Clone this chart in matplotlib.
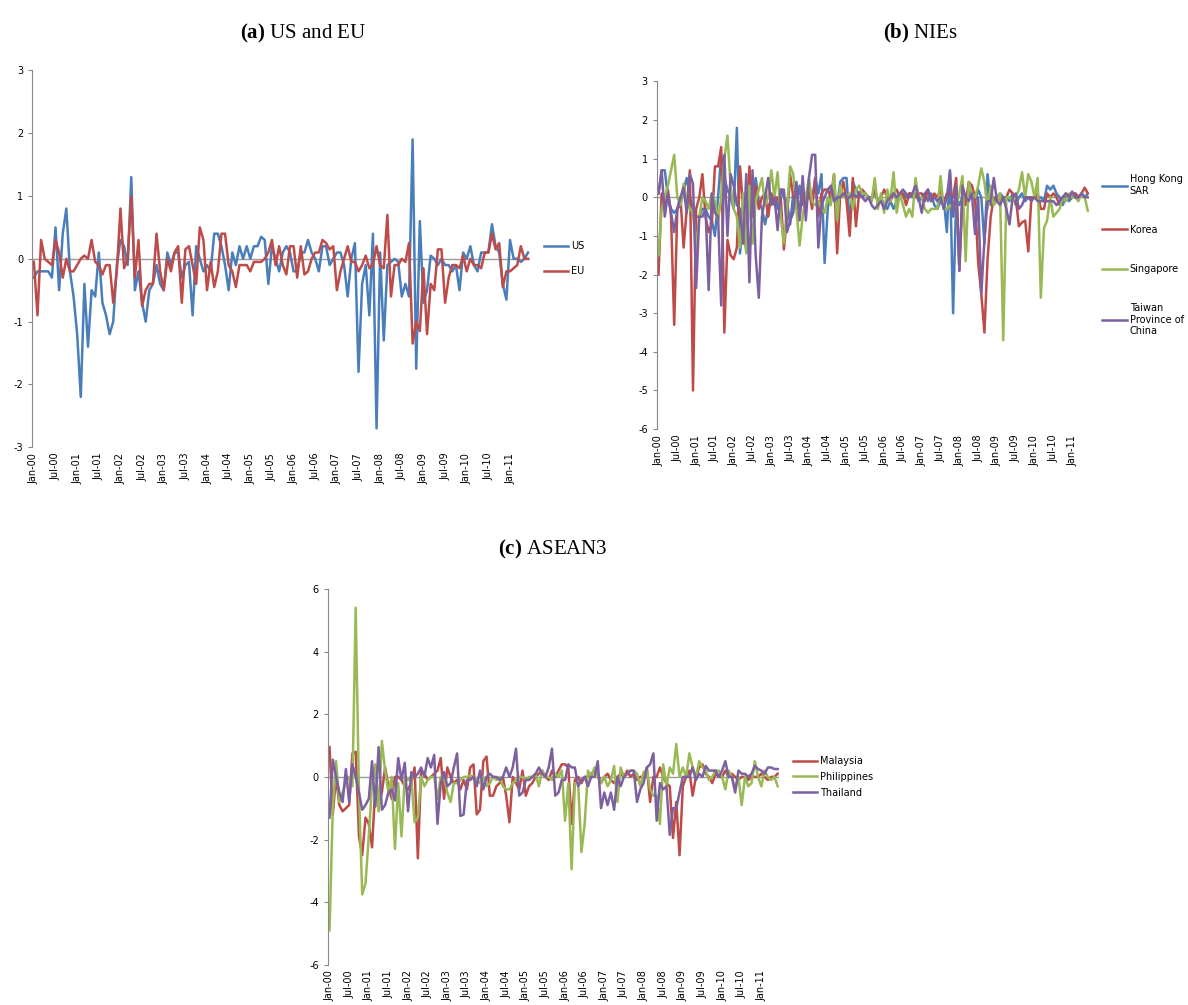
import numpy as np
import matplotlib
matplotlib.use('Agg')
import matplotlib.pyplot as plt

plt.rcParams['mathtext.fontset'] = 'custom'
plt.rcParams['mathtext.bf'] = 'Liberation Serif:bold'
plt.rcParams['mathtext.rm'] = 'Liberation Serif'
plt.rcParams['axes.unicode_minus'] = False

# monthly, Jan-00 .. Jun-11
n_months = 138
tick_labels = []
for y in range(0, 12):
    tick_labels += ['Jan-%02d' % y, 'Jul-%02d' % y]
tick_labels = tick_labels[:23]

us = [-0.3, -0.2, -0.2, -0.2, -0.2, -0.3, 0.5, -0.5, 0.4, 0.8, -0.2, -0.6,
      -1.2, -2.2, -0.4, -1.4, -0.5, -0.6, 0.1, -0.7, -0.9, -1.2, -1.0, -0.1,
      0.3, 0.2, -0.1, 1.3, -0.5, -0.2, -0.7, -1.0, -0.5, -0.4, -0.1, -0.4,
      -0.5, 0.1, -0.1, 0.1, 0.1, -0.3, -0.1, -0.05, -0.9, 0.2, 0.0, -0.2,
      -0.1, -0.2, 0.4, 0.4, 0.2, -0.1, -0.5, 0.1, -0.1, 0.2, 0.0, 0.2,
      0.0, 0.2, 0.2, 0.35, 0.3, -0.4, 0.2, 0.0, -0.2, 0.1, 0.2, 0.1,
      -0.2, -0.2, 0.1, 0.1, 0.3, 0.1, 0.0, -0.2, 0.2, 0.2, -0.1, 0.0,
      0.1, 0.1, -0.1, -0.6, 0.0, 0.25, -1.8, -0.4, -0.1, -0.9, 0.4, -2.7,
      0.1, -1.3, -0.1, -0.05, 0.0, -0.05, -0.6, -0.4, -0.6, 1.9, -1.75, 0.6,
      -0.7, -0.5, 0.05, 0.0, -0.1, 0.0, -0.1, -0.1, -0.2, -0.1, -0.5, 0.1,
      0.0, 0.2, -0.1, -0.2, 0.1, 0.1, 0.1, 0.55, 0.2, 0.1, -0.4, -0.65,
      0.3, 0.0, 0.0, -0.05, 0.0, 0.1]
eu = [-0.05, -0.9, 0.3, 0.0, -0.05, -0.1, 0.3, 0.1, -0.3, 0.0, -0.2, -0.2,
      -0.1, 0.0, 0.05, 0.0, 0.3, -0.05, -0.1, -0.25, -0.1, -0.1, -0.7, -0.2,
      0.8, -0.15, 0.0, 1.0, -0.3, 0.3, -0.75, -0.5, -0.4, -0.4, 0.4, -0.2,
      -0.5, 0.0, -0.2, 0.1, 0.2, -0.7, 0.15, 0.2, -0.1, -0.4, 0.5, 0.3,
      -0.5, -0.05, -0.45, -0.2, 0.4, 0.4, -0.1, -0.2, -0.45, -0.1, -0.1, -0.1,
      -0.2, -0.05, -0.05, -0.05, 0.0, 0.1, 0.3, -0.1, 0.2, -0.1, -0.25, 0.2,
      0.2, -0.3, 0.2, -0.25, -0.2, 0.0, 0.1, 0.1, 0.3, 0.25, 0.15, 0.2,
      -0.5, -0.2, 0.0, 0.2, -0.05, -0.05, -0.2, -0.1, 0.05, -0.15, -0.1, 0.2,
      -0.1, -0.15, 0.7, -0.6, -0.1, -0.1, 0.0, -0.05, 0.25, -1.35, -1.0, -1.15,
      -0.15, -1.2, -0.4, -0.5, 0.15, 0.15, -0.7, -0.3, -0.1, -0.1, -0.15, 0.05,
      -0.2, 0.0, -0.1, -0.1, -0.15, 0.1, 0.1, 0.4, 0.15, 0.25, -0.45, -0.2,
      -0.2, -0.15, -0.1, 0.2, 0.0, 0.0]

hong_kong = [0.1, 0.7, 0.7, 0.0, -0.3, -0.4, -0.3, -0.2, 0.2, 0.5, 0.0, -0.3,
             -0.5, -0.5, -0.3, -0.3, -0.5, -0.6, -1.0, 0.0, 1.1, 0.5, 0.2, 0.0,
             -0.3, 1.8, -1.45, -0.7, -1.4, 0.0, -0.2, 0.5, -0.1, -0.3, -0.7, -0.3,
             0.0, 0.1, -0.3, 0.2, 0.0, -0.1, -0.7, 0.1, -0.3, 0.3, -0.2, 0.0,
             0.0, -0.1, 0.5, 0.1, 0.6, -1.7, -0.3, 0.2, 0.1, -0.2, 0.4, 0.5,
             0.5, -0.7, 0.4, 0.2, 0.1, 0.0, 0.1, 0.0, 0.0, 0.1, -0.1, 0.0,
             -0.2, -0.3, -0.1, -0.3, -0.1, 0.0, 0.1, 0.0, 0.1, 0.0, 0.1, -0.1,
             0.0, 0.1, -0.1, 0.1, -0.2, -0.3, -0.1, 0.0, -0.9, 0.7, -3.0, 0.0,
             -0.2, 0.0, -0.1, 0.0, 0.3, -0.1, 0.2, 0.0, -1.2, 0.6, -0.2, -0.1,
             0.0, 0.1, 0.0, 0.0, -0.1, 0.1, -0.2, 0.0, 0.1, -0.1, 0.0, 0.0,
             0.0, 0.0, 0.0, -0.1, 0.3, 0.2, 0.3, 0.1, 0.0, -0.2, 0.0, -0.1,
             0.0, 0.1, 0.0, 0.1, 0.0, 0.1]
korea = [-2.0, 0.1, -0.3, 0.2, -0.5, -3.3, -0.3, 0.0, -1.3, -0.3, 0.7, -5.0,
         -0.3, 0.0, 0.6, -0.5, -0.9, -0.7, 0.8, 0.8, 1.3, -3.5, -1.1, -1.5,
         -1.6, -1.3, 0.8, -0.3, -1.2, 0.8, -0.5, 0.3, -0.3, 0.0, 0.1, -0.5,
         0.1, -0.2, 0.0, 0.0, -1.35, -0.5, 0.6, 0.0, 0.3, -0.5, 0.2, -0.2,
         0.2, -0.3, 0.5, -0.5, 0.1, 0.2, 0.2, 0.0, 0.6, -1.45, 0.1, 0.4,
         -0.1, -1.0, 0.5, -0.75, 0.1, 0.2, 0.1, 0.0, -0.1, 0.3, -0.2, 0.0,
         0.2, 0.0, -0.1, 0.1, 0.2, 0.0, 0.1, -0.2, 0.1, 0.1, 0.0, 0.1,
         0.1, -0.1, 0.2, -0.1, 0.1, 0.0, 0.2, -0.2, 0.1, 0.1, 0.0, 0.5,
         -1.9, 0.0, -0.2, 0.4, 0.3, 0.0, -1.7, -2.5, -3.5, -1.6, -0.5, 0.0,
         -0.1, 0.0, -0.1, 0.0, 0.2, 0.1, 0.0, -0.75, -0.65, -0.6, -1.4, 0.0,
         0.0, 0.1, -0.3, -0.3, 0.1, 0.0, 0.1, 0.0, -0.2, 0.0, 0.1, 0.0,
         0.0, 0.1, 0.0, 0.1, 0.25, 0.1]
singapore = [-1.5, -0.3, 0.0, 0.3, 0.7, 1.1, 0.0, -0.2, 0.35, -0.1, -0.3, -0.4,
             -1.3, -0.5, 0.0, -0.1, -0.3, 0.1, -0.1, -0.6, 0.0, 1.0, 1.6, 0.3,
             -0.3, -0.5, -1.3, 0.1, -1.45, 0.3, -1.2, -0.1, 0.2, 0.5, -0.2, 0.0,
             0.7, 0.0, 0.65, -0.5, -1.2, -0.3, 0.8, 0.6, -0.3, -1.25, -0.5, 0.0,
             0.5, -0.1, -0.2, -0.1, -0.3, -0.4, 0.0, -0.2, 0.6, -0.6, 0.3, 0.0,
             0.0, 0.1, -0.3, 0.2, 0.3, 0.1, 0.1, 0.0, -0.1, 0.5, -0.3, 0.1,
             -0.4, 0.2, -0.1, 0.65, -0.4, 0.1, -0.2, -0.5, -0.3, -0.5, 0.5, 0.0,
             0.0, -0.3, -0.4, -0.3, -0.3, -0.3, 0.55, -0.3, -0.3, -0.2, -0.3, -0.25,
             0.1, 0.55, -1.65, 0.4, 0.1, 0.0, 0.3, 0.75, 0.4, -0.3, 0.3, -0.2,
             -0.1, 0.1, -3.7, 0.0, 0.0, -0.1, 0.0, 0.2, 0.65, 0.0, 0.6, 0.4,
             0.0, 0.5, -2.6, -0.8, -0.6, 0.0, -0.5, -0.4, -0.3, 0.0, -0.1, 0.1,
             0.0, 0.0, -0.1, 0.1, 0.0, -0.35]
taiwan = [0.1, 0.7, -0.5, 0.1, -0.4, -0.9, -0.3, 0.0, 0.25, -0.4, 0.6, 0.35,
          -2.35, -0.5, -0.5, -0.3, -2.4, 0.1, -0.4, -0.5, -2.8, 1.1, -1.0, 0.6,
          0.3, -0.2, -0.3, -1.2, 0.6, -2.2, 0.7, -1.5, -2.6, -0.5, 0.0, 0.5,
          -0.2, 0.0, -0.85, 0.2, 0.2, -0.9, -0.6, -0.4, 0.4, -0.6, 0.55, -0.6,
          0.5, 1.1, 1.1, -1.3, -0.2, 0.0, 0.2, 0.3, -0.1, 0.0, 0.0, 0.1,
          0.0, 0.0, 0.1, 0.0, 0.1, 0.0, -0.1, 0.0, -0.2, -0.3, -0.2, -0.1,
          -0.3, -0.1, 0.0, 0.1, 0.0, 0.1, 0.2, 0.1, 0.0, 0.1, 0.3, 0.0,
          -0.4, 0.1, 0.2, -0.1, 0.0, -0.1, 0.0, -0.3, 0.0, 0.65, -0.5, 0.3,
          -1.9, 0.3, 0.0, -0.1, 0.1, -0.95, 0.0, -2.5, -1.1, -0.1, -0.1, 0.5,
          -0.1, -0.2, 0.0, -0.3, -0.7, 0.0, 0.1, -0.3, -0.2, 0.0, 0.0, -0.1,
          0.0, -0.1, -0.1, -0.1, -0.1, -0.1, -0.1, -0.2, -0.1, 0.0, 0.1, 0.0,
          0.15, 0.0, 0.0, 0.1, 0.0, 0.0]

malaysia = [0.95, -1.2, 0.0, -0.9, -1.1, -1.0, -0.9, 0.75, 0.8, -1.9, -2.5, -1.3,
            -1.5, -2.25, -0.3, -0.8, -0.5, 0.3, -0.3, -0.7, 0.0, 0.0, -0.1, -0.3,
            -0.4, -0.2, 0.3, -2.6, 0.2, 0.1, -0.1, 0.0, 0.1, 0.2, 0.6, -0.7,
            0.3, 0.0, -0.2, -0.1, -0.4, -0.1, -0.4, 0.3, 0.4, -1.2, -1.05, 0.5,
            0.65, -0.6, -0.6, -0.3, -0.2, 0.0, -0.6, -1.45, 0.0, -0.2, -0.4, 0.2,
            -0.6, -0.3, -0.2, 0.0, 0.1, 0.2, 0.0, -0.1, 0.2, 0.0, 0.2, 0.4,
            0.4, 0.3, -1.5, -0.1, 0.0, -0.2, 0.0, 0.0, 0.1, 0.2, 0.1, -0.2,
            0.0, 0.1, -0.1, -0.2, 0.0, 0.1, 0.0, 0.2, 0.0, 0.1, -0.1, 0.0,
            0.0, 0.3, -0.8, 0.0, 0.0, 0.3, 0.0, -0.2, -0.3, -1.95, -0.8, -2.5,
            -0.3, 0.0, 0.2, -0.6, 0.0, 0.3, 0.4, 0.1, 0.0, -0.2, 0.1, 0.0,
            0.0, 0.2, 0.0, 0.1, 0.0, -0.1, 0.0, 0.0, -0.1, 0.0, 0.0, 0.0,
            0.1, 0.0, -0.1, 0.0, 0.0, 0.1]
philippines = [-4.9, -1.0, 0.5, -0.8, -0.5, -0.2, 0.0, -0.3, 5.4, -0.5, -3.75, -3.4,
               -1.9, -0.2, 0.4, -1.1, 1.15, 0.2, -0.5, 0.0, -2.3, -0.2, -1.9, 0.0,
               -0.1, 0.0, -1.45, -1.3, 0.0, -0.3, -0.1, 0.0, 0.0, -0.7, 0.0, 0.0,
               -0.5, -0.8, -0.2, -0.2, -0.1, 0.0, 0.0, 0.05, 0.0, -0.1, -0.2, 0.0,
               -0.3, -0.2, 0.0, -0.1, 0.0, -0.3, -0.4, -0.4, -0.2, -0.1, 0.0, 0.0,
               -0.1, 0.0, 0.0, 0.1, -0.3, 0.2, 0.0, 0.0, -0.1, 0.1, 0.0, 0.2,
               -1.4, -0.2, -2.95, -0.2, -0.2, -2.4, -1.5, 0.2, 0.0, 0.3, 0.0, -0.2,
               0.0, -0.3, -0.1, 0.35, -0.8, 0.3, 0.0, 0.1, 0.2, 0.2, 0.1, -0.3,
               0.15, 0.2, -0.4, -0.6, -0.6, -1.5, 0.4, -0.3, 0.3, 0.1, 1.05, 0.0,
               0.3, 0.0, 0.75, 0.3, 0.0, 0.5, 0.3, 0.2, -0.1, 0.0, 0.2, 0.2,
               0.0, -0.4, 0.2, 0.0, -0.4, 0.0, -0.9, 0.0, -0.3, -0.2, 0.5, 0.0,
               -0.3, 0.2, 0.0, -0.1, 0.0, -0.3]
thailand = [-1.3, 0.55, 0.0, -0.5, -0.8, 0.25, -0.8, 0.4, 0.0, -0.5, -1.05, -0.9,
            -0.7, 0.5, -0.95, 0.95, -1.05, -0.9, -0.5, -0.4, -0.75, 0.6, -0.1, 0.45,
            -1.1, 0.15, 0.0, 0.1, 0.3, 0.0, 0.6, 0.3, 0.7, -1.5, -0.2, 0.15,
            -0.3, -0.2, 0.3, 0.75, -1.25, -1.2, -0.1, -0.1, 0.0, -0.3, 0.2, -0.4,
            0.0, 0.1, 0.0, 0.0, -0.1, 0.0, 0.3, 0.0, 0.3, 0.9, -0.6, -0.5,
            -0.1, -0.1, 0.0, 0.1, 0.3, 0.1, 0.0, 0.3, 0.9, -0.6, -0.5, -0.1,
            -0.1, 0.4, 0.3, 0.3, -0.3, -0.1, 0.0, -0.3, 0.0, 0.0, 0.5, -1.0,
            -0.5, -0.9, -0.5, -1.05, 0.0, -0.3, 0.0, 0.1, 0.2, 0.2, -0.8, -0.4,
            -0.2, 0.3, 0.4, 0.75, -1.4, -0.2, -0.4, -0.3, -1.85, -1.0, -1.0, -0.5,
            0.0, 0.0, 0.0, 0.3, -0.1, 0.1, 0.0, 0.35, 0.2, 0.2, 0.2, 0.0,
            0.2, 0.5, 0.0, 0.0, -0.5, 0.2, 0.1, 0.1, 0.0, 0.1, 0.35, 0.25,
            0.2, 0.1, 0.3, 0.3, 0.25, 0.25]

BLUE, RED, GREEN, PURPLE = '#4A7EBB', '#BE4B48', '#98B954', '#7D60A0'
x = np.arange(n_months)

fig = plt.figure(figsize=(11.88, 10.05), dpi=100)


def panel(rect, series, ylim, ystep, legend_space):
    ax = fig.add_axes(rect)
    ax.axhline(0, color='#999999', lw=1, zorder=1)
    for lab, vals, col in series:
        ax.plot(x, vals, color=col, lw=1.8, label=lab, zorder=2)
    ax.set_xlim(-0.5, n_months - 0.5)
    ax.set_ylim(*ylim)
    ax.set_yticks(np.arange(ylim[0], ylim[1] + 0.1, ystep))
    ax.set_xticks(np.arange(0, n_months, 6))
    ax.set_xticklabels(tick_labels, rotation=90, fontsize=7)
    for s in ['top', 'right', 'bottom']:
        ax.spines[s].set_visible(False)
    ax.spines['left'].set_color('#888888')
    ax.tick_params(axis='y', labelsize=7, length=3, color='#888888')
    ax.tick_params(axis='x', length=0, pad=4)
    ax.legend(loc='center left', bbox_to_anchor=(1.01, 0.5), frameon=False,
              fontsize=7, handlelength=2.5, handletextpad=0.3,
              labelspacing=legend_space)
    return ax


panel([0.027, 0.555, 0.419, 0.375], [('US', us, BLUE), ('EU', eu, RED)], (-3, 3), 1, 1.5)
panel([0.553, 0.573, 0.364, 0.346],
      [('Hong Kong\nSAR', hong_kong, BLUE), ('Korea', korea, RED),
       ('Singapore', singapore, GREEN), ('Taiwan\nProvince of\nChina', taiwan, PURPLE)],
      (-6, 3), 1, 3.0)
panel([0.276, 0.040, 0.380, 0.374],
      [('Malaysia', malaysia, RED), ('Philippines', philippines, GREEN), ('Thailand', thailand, PURPLE)],
      (-6, 6), 2, 0.6)

fig.text(0.255, 0.962, r'$\mathbf{(a)}$ US and EU', ha='center', fontsize=15, family='Liberation Serif')
fig.text(0.775, 0.962, r'$\mathbf{(b)}$ NIEs', ha='center', fontsize=15, family='Liberation Serif')
fig.text(0.465, 0.448, r'$\mathbf{(c)}$ ASEAN3', ha='center', fontsize=15, family='Liberation Serif')

fig.savefig('out.png', dpi=100)
